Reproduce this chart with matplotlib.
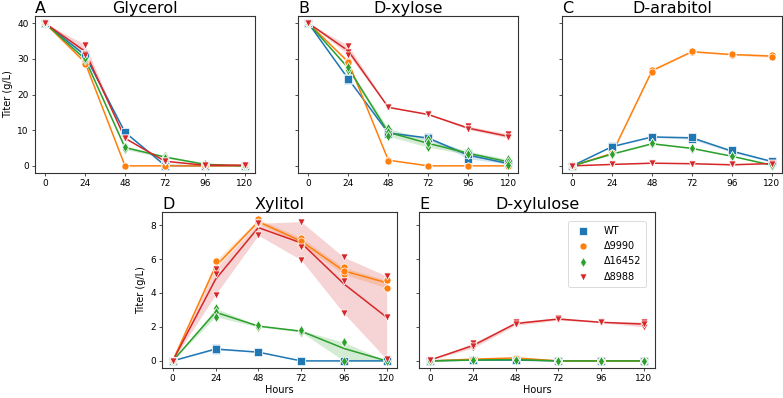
import numpy as np
import matplotlib
matplotlib.use("Agg")
import matplotlib.pyplot as plt

hours = [0, 24, 48, 72, 96, 120]
strains = ["WT", "Δ9990", "Δ16452", "Δ8988"]
colors = ["#1f77b4", "#ff7f0e", "#2ca02c", "#d62728"]
markers = ["s", "o", "d", "v"]

# replicates per time point (3 each) --- Glycerol
glycerol_wt = [[40, 40, 40], [31.0, 30.6, 31.4], [9.6, 9.2, 9.4], [0.3, 0, 0], [0, 0, 0], [0, 0, 0]]
glycerol_9990 = [[40, 40, 40], [29.0, 29.4, 28.6], [0, 0, 0], [0, 0, 0], [0, 0, 0], [0, 0, 0]]
glycerol_16452 = [[40, 40, 40], [30.0, 29.6, 30.3], [5.5, 4.6, 5.3], [2.9, 2.2, 2.3], [0.6, 0.3, 0.4], [0, 0, 0]]
glycerol_8988 = [[40, 40, 40], [34.0, 31.3, 31.0], [7.9, 7.6, 7.7], [1.4, 1.2, 1.3], [0.2, 0.1, 0.2], [0.3, 0.1, 0.2]]

# D-xylose
xylose_wt = [[40, 40, 40], [24.6, 24.2, 24.3], [9.2, 9.5, 9.0], [8.0, 7.6, 7.8], [2.0, 3.6, 3.4], [0.5, 0.8, 0.7]]
xylose_9990 = [[40, 40, 40], [29.3, 28.9, 29.1], [1.6, 1.7, 1.5], [0, 0, 0], [0, 0, 0], [0, 0, 0]]
xylose_16452 = [[40, 40, 40], [27.5, 27.0, 27.7], [10.5, 9.4, 8.3], [7.4, 5.2, 6.3], [4.1, 3.2, 3.3], [1.9, 1.2, 0.3]]
xylose_8988 = [[40, 40, 40], [33.7, 31.8, 31.2], [16.4, 16.3, 16.5], [14.5, 14.3, 14.4], [11.1, 10.2, 10.4], [9.0, 7.8, 8.0]]

# D-arabitol
arabitol_wt = [[0, 0, 0], [5.4, 5.5, 5.3], [8.1, 8.2, 8.0], [8.0, 7.4, 8.2], [4.2, 3.8, 4.4], [1.3, 1.0, 1.4]]
arabitol_9990 = [[0, 0, 0], [3.6, 3.4, 3.5], [26.7, 27.0, 26.4], [32.0, 31.8, 32.2], [31.2, 31.0, 31.4], [30.7, 31.2, 30.4]]
arabitol_16452 = [[0, 0, 0], [3.3, 3.2, 3.4], [6.3, 6.0, 6.3], [4.9, 4.8, 5.0], [2.6, 2.8, 2.7], [0.2, 0.1, 0.3]]
arabitol_8988 = [[0, 0, 0], [0.4, 0.4, 0.4], [0.8, 0.7, 0.75], [0.6, 0.6, 0.6], [0.3, 0.2, 0.4], [0.7, 0.6, 0.65]]

# Xylitol
xylitol_wt = [[0, 0, 0], [0.75, 0.65, 0.7], [0.5, 0.55, 0.5], [0, 0, 0], [0, 0, 0], [0, 0, 0]]
xylitol_9990 = [[0, 0, 0], [5.9, 5.4, 5.4], [8.35, 8.1, 8.15], [7.25, 6.85, 7.05], [5.5, 5.1, 5.3], [4.75, 4.75, 4.3]]
xylitol_16452 = [[0, 0, 0], [3.1, 2.9, 2.6], [2.05, 2.0, 2.1], [1.75, 1.7, 1.8], [1.1, 1.1, 0.0], [0, 0, 0]]
xylitol_8988 = [[0, 0, 0], [5.4, 5.1, 3.9], [8.05, 8.1, 7.4], [8.2, 5.95, 6.7], [6.1, 4.7, 2.8], [5.0, 2.6, 0.1]]

# D-xylulose
xylulose_wt = [[0, 0, 0], [0.05, 0.05, 0.05], [0.05, 0.05, 0.05], [0, 0, 0], [0, 0, 0], [0, 0, 0]]
xylulose_9990 = [[0, 0, 0], [0.1, 0.1, 0.1], [0.2, 0.15, 0.18], [0, 0, 0], [0, 0, 0], [0, 0, 0]]
xylulose_16452 = [[0, 0, 0], [0.05, 0.05, 0.05], [0.1, 0.05, 0.08], [0, 0, 0], [0, 0, 0], [0, 0, 0]]
xylulose_8988 = [[0.05, 0.05, 0.05], [1.05, 0.75, 0.9], [2.3, 2.1, 2.2], [2.55, 2.4, 2.45], [2.3, 2.25, 2.27], [2.3, 2.0, 2.2]]

panels = [
    ("A", "Glycerol", [glycerol_wt, glycerol_9990, glycerol_16452, glycerol_8988]),
    ("B", "D-xylose", [xylose_wt, xylose_9990, xylose_16452, xylose_8988]),
    ("C", "D-arabitol", [arabitol_wt, arabitol_9990, arabitol_16452, arabitol_8988]),
    ("D", "Xylitol", [xylitol_wt, xylitol_9990, xylitol_16452, xylitol_8988]),
    ("E", "D-xylulose", [xylulose_wt, xylulose_9990, xylulose_16452, xylulose_8988]),
]

W, H = 783, 398
fig = plt.figure(figsize=(W / 100, H / 100), dpi=100)

def box(l, r, t, b):
    return [l / W, 1 - b / H, (r - l) / W, (b - t) / H]

axA = fig.add_axes(box(35, 255, 16, 173))
axB = fig.add_axes(box(298.3, 518.3, 16, 173), sharey=axA)
axC = fig.add_axes(box(562.3, 781.7, 16, 173), sharey=axA)
axD = fig.add_axes(box(162, 397.4, 212, 368))
axE = fig.add_axes(box(419.3, 654.7, 212, 368), sharey=axD)
axes = [axA, axB, axC, axD, axE]

spine_col = "#333333"
for ax, (letter, title, data) in zip(axes, panels):
    for reps, c, m, name in zip(data, colors, markers, strains):
        arr = np.array(reps, dtype=float)
        mean = arr.mean(axis=1)
        lo = arr.min(axis=1)
        hi = arr.max(axis=1)
        ax.fill_between(hours, lo, hi, color=c, alpha=0.2, lw=0)
        ax.plot(hours, mean, color=c, lw=1.1)
    for reps, c, m, name in zip(data, colors, markers, strains):
        arr = np.array(reps, dtype=float)
        xs = np.repeat(hours, arr.shape[1])
        ax.scatter(xs, arr.ravel(), marker=m, s=26, color=c, edgecolors="white",
                   linewidths=0.5, zorder=3, label=name)
    ax.set_xticks(hours)
    ax.tick_params(labelsize=6.5, length=2.4, width=0.6, color=spine_col, pad=2)
    for sp in ax.spines.values():
        sp.set_color(spine_col)
        sp.set_linewidth(0.8)
    ax.set_title(title, fontsize=11.5, pad=2)
    ax.set_title(letter, fontsize=11.5, loc="left", pad=2)

for ax in (axB, axC, axE):
    ax.tick_params(labelleft=False)

axA.set_ylabel("Titer (g/L)", fontsize=7, labelpad=3)
axD.set_ylabel("Titer (g/L)", fontsize=7, labelpad=3)
axD.set_xlabel("Hours", fontsize=7, labelpad=1.5)
axE.set_xlabel("Hours", fontsize=7, labelpad=1.5)

leg = axE.legend(loc="upper right", fontsize=7, frameon=True, borderpad=0.5,
                 labelspacing=0.55, handletextpad=1.2, markerscale=1.0,
                 bbox_to_anchor=(0.985, 0.975))
leg.get_frame().set_edgecolor("#cccccc")
leg.get_frame().set_linewidth(0.6)

fig.savefig("out.png", dpi=100)
